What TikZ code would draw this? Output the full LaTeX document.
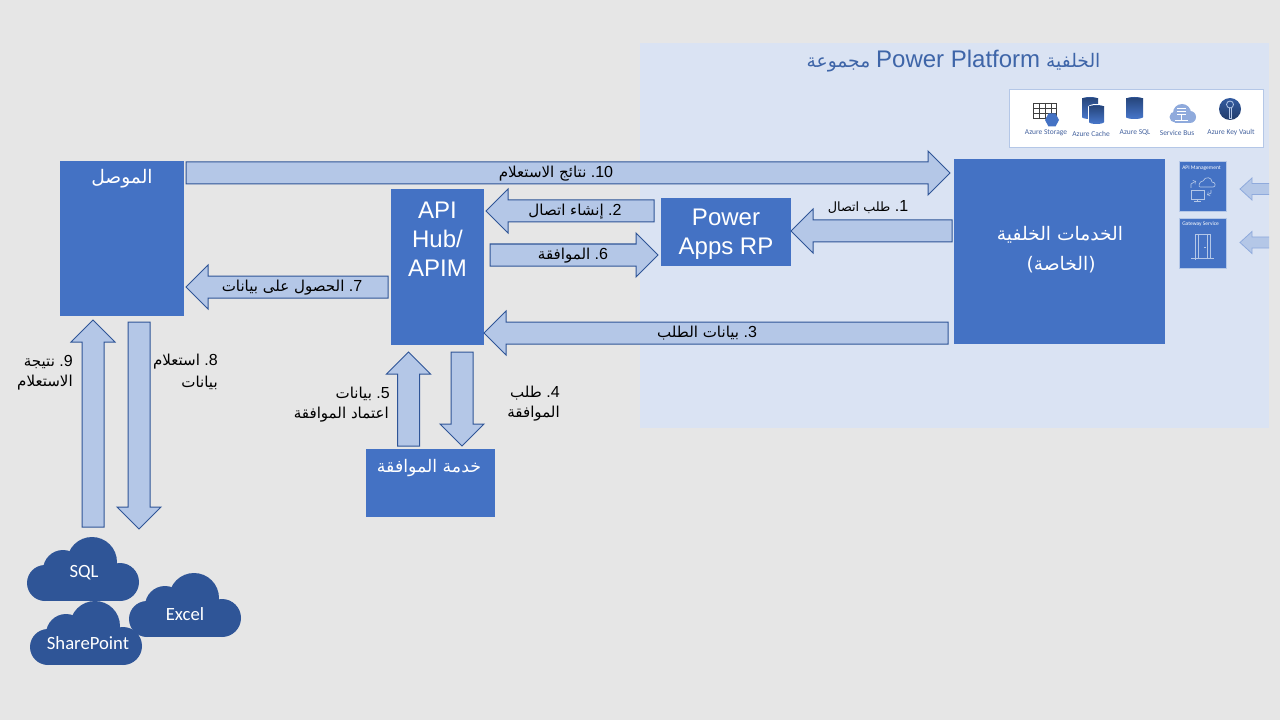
\documentclass[tikz,border=0pt]{standalone}
\usepackage{fontspec}
\usetikzlibrary{calc}
\setmainfont{Liberation Sans}
\newfontfamily\arabicfont[Script=Arabic]{DejaVu Sans}
\newfontfamily\lat{Liberation Sans}
\newfontfamily\carl{Carlito}
\TeXXeTstate=1
\definecolor{bgc}{HTML}{E6E6E6}
\definecolor{panel}{HTML}{DAE3F3}
\definecolor{boxc}{HTML}{4472C4}
\definecolor{arrf}{HTML}{B4C7E7}
\definecolor{arrd}{HTML}{2F5597}
\definecolor{soft}{HTML}{8FAADC}
\definecolor{titlec}{HTML}{3E65A8}
\definecolor{iconlab}{HTML}{44629E}
\newcommand\numlat[1]{{\lat\fontsize{12pt}{14pt}\selectfont #1}}
\newcommand\barrowgen[6]{%
  \coordinate (arT) at #2; \coordinate (arH) at #3;
  \coordinate (arN) at ($(arH)!#6!(arT)$);
  \draw[#1] ($(arT)!#4!90:(arH)$) -- ($(arN)!#4!90:(arH)$) -- ($(arN)!#5!90:(arH)$) -- (arH)
    -- ($(arN)!#5!-90:(arH)$) -- ($(arN)!#4!-90:(arH)$) -- ($(arT)!#4!-90:(arH)$) -- cycle;}
\newcommand\blockarrow[2]{\barrowgen{blockarrowstyle}{#1}{#2}{8.25pt}{16.5pt}{16.5pt}}
\newcommand\mycloud[2]{\begin{scope}[shift={(#1,#2)}]
  \fill[arrd] (18,46) circle [radius=18];
  \fill[arrd] (36,33) circle [radius=20];
  \fill[arrd] (65,25) circle [radius=25];
  \fill[arrd] (93,45) circle [radius=19];
  \fill[arrd] (18,30) rectangle (93,64);
\end{scope}}
\newcommand\cyl[4]{% x1 x2 ytop ybottom
  \fill[arrd] ({(#1+#2)/2},#3) ellipse [x radius={(#2-#1)/2}, y radius=2];
  \fill[boxc] ({(#1+#2)/2},#4) ellipse [x radius={(#2-#1)/2}, y radius=2];
  \shade[top color=arrd!85!black, bottom color=boxc] (#1,#3) rectangle (#2,#4);}
\tikzset{
  blockarrowstyle/.style={draw=arrd, fill=arrf, line width=0.75pt, line join=miter},
  boxn/.style={fill=boxc, anchor=north west, inner sep=0pt, outer sep=0pt},
  wen/.style={text=white, inner sep=0pt, align=center, font=\fontsize{18pt}{21.6pt}\selectfont},
  wara/.style={text=white, inner sep=0pt, font=\arabicfont\fontsize{14pt}{16pt}\selectfont},
  ktext/.style={text=black, inner sep=0pt, yshift=-1.5pt, font=\arabicfont\fontsize{11.3pt}{14pt}\selectfont},
  ktextsmall/.style={text=black, inner sep=0pt, yshift=-1.5pt, font=\arabicfont\fontsize{9.6pt}{14pt}\selectfont},
  iconlabel/.style={text=iconlab, inner sep=0pt, font=\carl\fontsize{5.6pt}{6pt}\selectfont},
  smalllabel/.style={text=white, inner sep=0pt, font=\carl\fontsize{4.1pt}{5pt}\selectfont, anchor=west},
  icline/.style={draw=arrf, line width=0.5pt},
  cloudtext/.style={text=white, inner sep=0pt, font=\carl\fontsize{14pt}{16pt}\selectfont},
}
\begin{document}
\begin{tikzpicture}[x=0.75pt,y=-0.75pt]
\useasboundingbox (0,0) rectangle (1280,720);
\fill[bgc] (0,0) rectangle (1280,720);
\fill[panel] (640,43) rectangle (1269,428);
\node[text=titlec,inner sep=0pt,font=\arabicfont\fontsize{14pt}{20pt}\selectfont] (title) at (953.5,61) {\beginR الخلفية\ \beginL{\lat\fontsize{18pt}{20pt}\selectfont Power Platform}\endL\ مجموعة\endR};

% boxes
\node[boxn,minimum width=93pt,minimum height=116.25pt] (conn) at (60,161) {};
\node[boxn,minimum width=69.75pt,minimum height=117pt] (api) at (391,189) {};
\node[boxn,minimum width=97.5pt,minimum height=51pt] (rp) at (661,198) {};
\node[boxn,minimum width=158.25pt,minimum height=138.75pt] (backend) at (954,159) {};
\node[boxn,minimum width=96.75pt,minimum height=51pt] (approv) at (366,449) {};

\node[wara] (connl) at (122,179) {\beginR الموصل\endR};
\node[wen] (apil) at (437.5,239) {API\\Hub/\\APIM};
\node[wen] (rpl) at (726,234.5) {Power\\Apps RP};
\node[wara] (backl) at (1060,235) {\beginR الخدمات الخلفية\endR};
\node[wara] (backl2) at (1061,265) {\beginR (الخاصة)\endR};
\node[wara,font=\arabicfont\fontsize{13pt}{15pt}\selectfont] (approvl) at (429,468) {\beginR خدمة الموافقة\endR};

% arrows
\blockarrow{($(conn.east |- 0,173)+(2,0)$)}{($(backend.west |- 0,173)+(-4,0)$)}
\blockarrow{($(rp.west |- 0,211)+(-7,0)$)}{($(api.east |- 0,211)+(2,0)$)}
\blockarrow{($(api.east |- 0,255)+(6,0)$)}{($(rp.west |- 0,255)+(-3,0)$)}
\blockarrow{($(api.west |- 0,287)+(-3,0)$)}{($(conn.east |- 0,287)+(2,0)$)}
\blockarrow{($(backend.west |- 0,231)+(-2,0)$)}{(rp.east |- 0,231)}
\blockarrow{($(backend.west |- 0,333)+(-6,0)$)}{(api.east |- 0,333)}
\blockarrow{($(approv.north -| 408.5,0)+(0,-3)$)}{($(api.south -| 408.5,0)+(0,7)$)}
\blockarrow{($(api.south -| 462,0)+(0,7)$)}{($(approv.north -| 462,0)+(0,-3)$)}
\coordinate (sqlup) at (93,527);
\coordinate (sqldown) at (139,529);
\blockarrow{(sqlup)}{($(conn.south -| sqlup)+(0,4)$)}
\blockarrow{($(conn.south -| sqldown)+(0,6)$)}{(sqldown)}
\coordinate (edgeA) at (1269,189);
\coordinate (edgeB) at (1269,242.5);
\coordinate (tipA) at (1240,189);
\coordinate (tipB) at (1240,242.5);
\fill[arrf] (1269,183.5) -- (1252,183.5) -- (1252,178) -- (tipA) -- (1252,200) -- (1252,194.5) -- (1269,194.5) -- cycle;
\draw[soft,line width=0.6pt] (edgeA |- 0,183.5) -- (1252,183.5) -- (1252,178) -- (tipA) -- (1252,200) -- (1252,194.5) -- (edgeA |- 0,194.5);
\fill[arrf] (1269,237) -- (1252,237) -- (1252,231.5) -- (tipB) -- (1252,253.5) -- (1252,248) -- (1269,248) -- cycle;
\draw[soft,line width=0.6pt] (edgeB |- 0,237) -- (1252,237) -- (1252,231.5) -- (tipB) -- (1252,253.5) -- (1252,248) -- (edgeB |- 0,248);

% arrow labels
\node[ktext] (l10) at (556,172) {\beginR\beginL\numlat{10}\endL\numlat{.\ }نتائج الاستعلام\endR};
\node[ktext] (l2) at (575,210) {\beginR\beginL\numlat{2}\endL\numlat{.\ }إنشاء اتصال\endR};
\node[ktext] (l6) at (573,254) {\beginR\beginL\numlat{6}\endL\numlat{.\ }الموافقة\endR};
\node[ktext] (l7) at (292,286) {\beginR\beginL\numlat{7}\endL\numlat{.\ }الحصول على بيانات\endR};
\node[ktextsmall] (l1) at (868,205) {\beginR\beginL\numlat{1}\endL\numlat{.\ }طلب اتصال\endR};
\node[ktext] (l3) at (707,331) {\beginR\beginL\numlat{3}\endL\numlat{.\ }بيانات الطلب\endR};
\node[ktext,anchor=east] (l5a) at (390,392) {\beginR\beginL\numlat{5}\endL\numlat{.\ }بيانات\endR};
\node[ktext,anchor=east] (l5b) at (389,413) {\beginR اعتماد الموافقة\endR};
\node[ktext,anchor=east] (l4a) at (560,391) {\beginR\beginL\numlat{4}\endL\numlat{.\ }طلب\endR};
\node[ktext,anchor=east] (l4b) at (560,412) {\beginR الموافقة\endR};
\node[ktext,anchor=east] (l8a) at (218,360) {\beginR\beginL\numlat{8}\endL\numlat{.\ }استعلام\endR};
\node[ktext,anchor=east] (l8b) at (218,381) {\beginR بيانات\endR};
\node[ktext,anchor=east] (l9a) at (73,360) {\beginR\beginL\numlat{9}\endL\numlat{.\ }نتيجة\endR};
\node[ktext,anchor=east] (l9b) at (73,381) {\beginR الاستعلام\endR};

% clouds
\mycloud{27}{537}
\mycloud{129}{573}
\mycloud{30}{601}
\node[cloudtext] (sql) at (84,573) {SQL};
\node[cloudtext] (excel) at (185,614) {Excel};
\node[cloudtext] (sp) at (88,643) {SharePoint};

% services strip
\node[fill=white,draw=arrf,line width=0.75pt,anchor=north west,minimum width=190.5pt,minimum height=43.5pt,inner sep=0pt] (strip) at (1009,89) {};
% storage
\draw[black!75,line width=0.45pt] (1033,103) rectangle (1056,118);
\foreach \xx in {1039,1045,1051}{\draw[black!75,line width=0.45pt] (\xx,103) -- (\xx,118);}
\foreach \yy in {108,113}{\draw[black!75,line width=0.45pt] (1033,\yy) -- (1056,\yy);}
\fill[boxc] (1045,120) -- (1048.5,113.5) -- (1055.5,113.5) -- (1059,120) -- (1055.5,126.5) -- (1048.5,126.5) -- cycle;
% cache
\cyl{1082}{1098}{99}{117}
\fill[white] (1096.5,107) ellipse [x radius=8.5, y radius=3];
\fill[white] (1088,107) rectangle (1105,123);
\cyl{1089}{1104}{107}{122}
% sql
\cyl{1126}{1143}{99}{117}
% service bus
\fill[soft] (1175,117) circle [radius=5.5];
\fill[soft] (1182,113) circle [radius=9];
\fill[soft] (1190,117) circle [radius=6];
\fill[soft] (1175,115) rectangle (1190,123);
\foreach \yy in {108,111,114}{\draw[white,line width=0.6pt] (1177,\yy) -- (1186,\yy);}
\draw[white,line width=0.4pt] (1181.5,114) -- (1181.5,120) (1175,120) -- (1188,120);
% key vault
\shade[top color=arrd!80!boxc, bottom color=arrd!70!black] (1230,109) circle [radius=11];
\draw[arrf,line width=0.6pt] (1230,104.5) circle [radius=3.5];
\draw[arrf,line width=0.6pt] (1229,108) -- (1229,118) -- (1231,118) -- (1231,108);

\node[iconlabel] (n1) at (1046,133) {Azure Storage};
\node[iconlabel] (n2) at (1091,134) {Azure Cache};
\node[iconlabel] (n3) at (1135,133) {Azure SQL};
\node[iconlabel] (n4) at (1177,133) {Service Bus};
\node[iconlabel] (n5) at (1231,133) {Azure Key Vault};

% small service boxes
\node[boxn,draw=arrf,line width=0.3pt,minimum width=35.25pt,minimum height=37.5pt] (apimbox) at (1179,161) {};
\node[boxn,draw=arrf,line width=0.3pt,minimum width=35.25pt,minimum height=37.5pt] (gwbox) at (1179,218) {};
\node[smalllabel] (apimlab) at (1182,168) {API Management};
\node[smalllabel] (gwlab) at (1182,224) {Gateway Service};
% api management icon
\draw[icline] (1200,187) -- (1213,187) .. controls (1216,187) and (1216,182) .. (1212,182) .. controls (1212,177) and (1205,176) .. (1203,181) .. controls (1199,181) and (1198,187) .. (1200,187);
\draw[icline] (1191,190) rectangle (1204,199);
\draw[icline] (1197.5,199) -- (1197.5,201.5) (1194,201.5) -- (1201,201.5);
\draw[icline,->,>=to] (1191,188) -- (1191,184) -- (1196,181);
\draw[icline,->,>=to] (1211,190) -- (1211,193) -- (1207,195);
% door icon
\draw[icline] (1195,260) -- (1195,234) -- (1210,234) -- (1210,258);
\draw[icline] (1198,234) -- (1198,258) -- (1207.5,258) -- (1207.5,234);
\draw[icline] (1191,258) -- (1214,258);
\draw[icline] (1204,247) -- (1206,247);
\end{tikzpicture}
\end{document}
